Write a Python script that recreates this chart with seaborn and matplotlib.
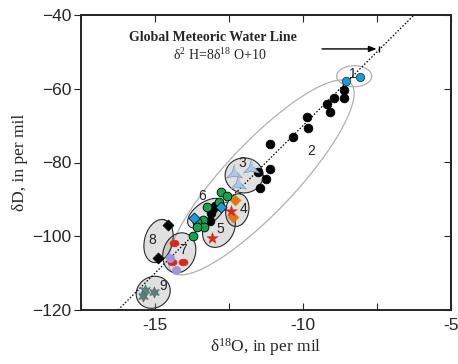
import numpy as np
import pandas as pd
import matplotlib
matplotlib.use("Agg")
import matplotlib.pyplot as plt
from matplotlib.path import Path
from matplotlib.ticker import MultipleLocator, FuncFormatter
import seaborn as sns

# --------------------------
# Data
# --------------------------
g1_x = [-8.54, -8.09]
g1_y = [-57.8, -56.8]

g2_x = [-8.63, -8.94, -8.63, -9.18, -9.08, -9.87, -9.82, -10.35, -11.10, -11.10,
        -11.51, -11.24, -11.46, -12.96, -13.10, -13.14]
g2_y = [-60.3, -62.5, -62.4, -64.1, -66.3, -67.6, -70.6, -73.2, -74.9, -81.7,
        -82.6, -84.6, -87.0, -91.8, -93.8, -95.8]

g3_x = [-12.34, -11.74, -12.19]
g3_y = [-82.8, -81.4, -85.9]

g4_x = [-12.31, -12.35]
g4_y = [-90.3, -94.7]

g5_x = [-12.42, -13.08]
g5_y = [-93.2, -100.4]

g6_green_x = [-12.77, -12.56, -12.85, -13.25, -13.37, -13.59, -13.34, -13.59, -13.73]
g6_green_y = [-87.9, -89.1, -90.7, -92.0, -95.5, -96.2, -97.6, -97.6, -99.9]
g6_blue_x = [-13.68, -12.76]
g6_blue_y = [-95.1, -92.2]

g7_red_x = [-14.35, -14.42, -14.07]
g7_red_y = [-101.7, -107.1, -107.1]
g7_purple_x = [-14.50, -14.30]
g7_purple_y = [-106.0, -109.1]

g8_x = [-14.55, -14.91]
g8_y = [-96.9, -106.0]

g9_x = [-15.35, -15.03, -15.40]
g9_y = [-114.5, -115.2, -116.3]

group_labels = ["1", "2", "3", "4", "5", "6", "7", "8", "9"]
label_x = [-8.33, -9.71, -12.06, -12.02, -12.80, -13.42, -14.06, -15.10, -14.74]
label_y = [-55.9, -76.9, -80.1, -92.7, -98.1, -89.1, -103.8, -101.0, -113.4]

# --------------------------
# Style
# --------------------------
sns.set_style("ticks")
plt.rcParams["font.family"] = ["Liberation Sans", "DejaVu Sans"]
plt.rcParams["mathtext.fontset"] = "custom"
plt.rcParams["mathtext.rm"] = "Liberation Serif"
plt.rcParams["mathtext.it"] = "Liberation Serif:italic"

fig = plt.figure(figsize=(4.58, 3.64), dpi=100)
ax = fig.add_axes([81 / 458, 1 - 310 / 364, 370 / 458, 295 / 364])
xmin, xmax, ymin, ymax = -17.5, -5, -120, -40
ax.set_xlim(xmin, xmax)
ax.set_ylim(ymin, ymax)

# pixels per data unit, used to draw the group outlines as screen ellipses
W, H = fig.get_size_inches() * fig.dpi
bb = ax.get_position()
sx = bb.width * W / (xmax - xmin)
sy = bb.height * H / (ymax - ymin)


def oval(cx, cy, a, b, ang, fc, ec, alpha, lw=0.8, z=1):
    t = np.linspace(0, 2 * np.pi, 240)
    r = np.deg2rad(ang)
    u, v = a * np.cos(t), b * np.sin(t)
    xs = cx + (u * np.cos(r) - v * np.sin(r)) / sx
    ys = cy + (u * np.sin(r) + v * np.cos(r)) / sy
    if fc != "none":
        ax.fill(xs, ys, color=fc, alpha=alpha, lw=0, zorder=z)
    ax.plot(xs, ys, color=ec, lw=lw, zorder=z + 0.1)


# big group 2 envelope and group 1
oval(-11.41, -84.05, 130, 35, 46.6, "none", "#b0b0b0", 1, lw=0.9)
oval(-8.27, -56.6, 17.5, 10.5, 0, "none", "#b0b0b0", 1, lw=0.9)
# small filled groups
for c in [(-11.99, -83.5, 19, 17.5, 0), (-12.22, -92.9, 16.5, 11.5, 80),
          (-12.84, -97.9, 20, 15, 60), (-13.28, -93.8, 21, 11, 35),
          (-14.18, -104.5, 20.5, 16, 70), (-14.88, -101.3, 22, 14, 75),
          (-15.06, -115.2, 17.5, 15.5, 30)]:
    oval(*c, fc="#9a9a9a", ec="#2a2a2a", alpha=0.3)

# GMWL
ax.axline((0, 10), slope=8, color="black", lw=0.9, ls=(0, (1.2, 1.5)), zorder=2)

# custom markers
t3 = np.deg2rad([90, 150, 210, 270, 330, 30])
r3 = [1, 0.3, 1, 0.3, 1, 0.3]
tri_star = Path(np.column_stack([np.cos(t3) * r3, np.sin(t3) * r3]))
tt = np.linspace(0, 2 * np.pi, 40)
flat_oval = Path(np.column_stack([1.35 * np.cos(tt), np.sin(tt)]))

kw = dict(ax=ax, legend=False, zorder=4)
sns.scatterplot(x=g2_x, y=g2_y, color="black", marker="o", s=40, edgecolor="black", **kw)
sns.scatterplot(x=g1_x, y=g1_y, color="#1c9bd6", marker="o", s=36, edgecolor="#1a3a50", linewidth=0.6, **kw)
sns.scatterplot(x=g3_x, y=g3_y, color="#a9c9e4", marker=tri_star, s=170, edgecolor="#7898b8", linewidth=0.5, **kw)
sns.scatterplot(x=g4_x, y=g4_y, color="#e0780e", marker="D", s=30, edgecolor="#e0780e", **kw)
sns.scatterplot(x=g5_x, y=g5_y, color="#d42a1e", marker="*", s=75, edgecolor="#d42a1e", linewidth=0.3, **kw)
sns.scatterplot(x=g6_green_x, y=g6_green_y, color="#17a050", marker="o", s=40, edgecolor="black", linewidth=0.6, **kw)
sns.scatterplot(x=g6_blue_x, y=g6_blue_y, color="#1c9bd6", marker="D", s=32, edgecolor="black", linewidth=0.5, **kw)
sns.scatterplot(x=g7_red_x, y=g7_red_y, color="#d42a1e", marker=flat_oval, s=42, edgecolor="#d42a1e", **kw)
sns.scatterplot(x=g7_purple_x, y=g7_purple_y, color="#a396d6", marker="o", s=36, edgecolor="#a396d6", **kw)
sns.scatterplot(x=g8_x, y=g8_y, color="black", marker="D", s=32, edgecolor="black", **kw)
sns.scatterplot(x=g9_x, y=g9_y, color="#5c7f7a", marker=(6, 1, 0), s=65, edgecolor="#4a6a66", linewidth=0.4, **kw)

for lab, lx, ly in zip(group_labels, label_x, label_y):
    ax.text(lx, ly, lab, fontsize=10, ha="center", va="center", color="#222222", zorder=5)

# title text and arrow
ax.text(-13.05, -46.1, "Global Meteoric Water Line", family="Liberation Serif",
        fontweight="bold", fontsize=10, ha="center", va="center")
ax.text(-12.8, -50.8, "δ$^{2}$ H=8δ$^{18}$ O+10", family="Liberation Serif",
        fontsize=10, ha="center", va="center")
ax.annotate("", xy=(-7.42, -49.2), xytext=(-9.45, -49.2),
            arrowprops=dict(arrowstyle="-|>,head_length=0.45,head_width=0.18", color="black", lw=1))
ax.plot([-7.42], [-49.2], marker="|", ms=5, color="black", mew=1)

# axes, ticks
ax.xaxis.set_major_locator(MultipleLocator(2.5))
ax.yaxis.set_major_locator(MultipleLocator(20))
ax.xaxis.set_major_formatter(FuncFormatter(lambda v, p: f"{v:g}" if abs(v % 5) < 1e-9 else ""))
ax.tick_params(axis="x", direction="in", length=5, width=0.8, labelsize=12.5, pad=6)
ax.tick_params(axis="y", direction="out", length=5, width=0.8, labelsize=12.5, pad=2)
sec_x = ax.secondary_xaxis("top")
sec_x.xaxis.set_major_locator(MultipleLocator(2.5))
sec_x.tick_params(direction="in", length=5, width=0.8, labeltop=False)
sec_y = ax.secondary_yaxis("right")
sec_y.yaxis.set_major_locator(MultipleLocator(20))
sec_y.tick_params(direction="in", length=5, width=0.8, labelright=False)
for s in list(ax.spines.values()) + [sec_x.spines["top"], sec_y.spines["right"]]:
    s.set_linewidth(1.4)

ax.set_xlabel("δ$^{18}$O, in per mil", family="Liberation Serif", fontsize=12.5, labelpad=2)
ax.set_ylabel("δD, in per mil", family="Liberation Serif", fontsize=12.5, labelpad=3)

fig.savefig("out.png", dpi=100)
